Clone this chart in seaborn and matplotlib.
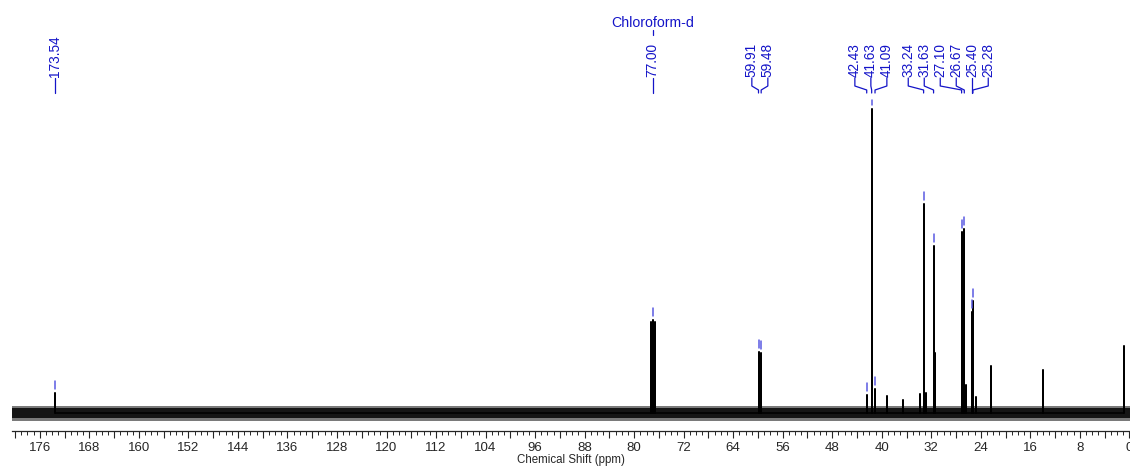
import numpy as np
import pandas as pd
import matplotlib
matplotlib.use("Agg")
import matplotlib.pyplot as plt
from matplotlib.ticker import MultipleLocator, FuncFormatter
from matplotlib.transforms import blended_transform_factory
import seaborn as sns

# 13C NMR peak list (ppm) with peak heights (arbitrary intensity units)
picked_ppm = [173.54, 77.00, 59.91, 59.48, 42.43, 41.63, 41.09,
              33.24, 31.63, 27.10, 26.67, 25.40, 25.28]
picked_height = [20, 93, 61, 60, 18, 304, 24,
                 209, 167, 181, 184, 101, 112]
picked_text = ["173.54", "77.00", "59.91", "59.48", "42.43", "41.63", "41.09",
               "33.24", "31.63", "27.10", "26.67", "25.40", "25.28"]

# unpicked lines: solvent triplet outer lines and minor signals
other_ppm = [77.32, 76.68, 39.2, 36.5, 33.8, 32.9, 31.45, 26.4, 24.8, 22.4, 13.9, 0.8]
other_height = [91, 91, 17, 13, 19, 20, 60, 28, 16, 47, 43, 67]

# baseline noise envelope (intensity units)
noise_core = (-5, 5)
noise_fringe = (-8, 7)

solvent_label = "Chloroform-d"
solvent_ppm = 77.00

x_label = "Chemical Shift (ppm)"

# ---------------------------------------------------------------------------
W, H, DPI = 1130, 468, 100
sns.set_style("ticks")
plt.rcParams["font.family"] = ["Liberation Sans", "DejaVu Sans"]

fig = plt.figure(figsize=(W / DPI, H / DPI), dpi=DPI)
ax_left, ax_right, ax_top, ax_bottom = 12, 1130, 100, 431
ax = fig.add_axes([ax_left / W, 1 - ax_bottom / H,
                   (ax_right - ax_left) / W, (ax_bottom - ax_top) / H])
xlim = (180.5, -0.1)
ylim = (-18, 313)
ax.set_xlim(*xlim)
ax.set_ylim(*ylim)

# spectrum drawn as stick lines rising from the baseline
all_ppm = picked_ppm + other_ppm
all_h = picked_height + other_height
order = np.argsort(all_ppm)[::-1]
xs, ys = [], []
for i in order:
    xs += [all_ppm[i], all_ppm[i], all_ppm[i]]
    ys += [0, all_h[i], 0]
spec = pd.DataFrame({"ppm": xs, "intensity": ys})

ax.fill_between(xlim, noise_fringe[0], noise_fringe[1], color="#7a7a7a",
                lw=0, zorder=1)
ax.fill_between(xlim, noise_core[0], noise_core[1], color="#151515",
                lw=0, zorder=1)
sns.lineplot(data=spec, x="ppm", y="intensity", sort=False, estimator=None,
             color="black", lw=1.1, ax=ax, zorder=2)

# peak-pick markers just above each picked peak
mark_col = "#5a5ae2"
for p, h in zip(picked_ppm, picked_height):
    y0, y1 = h + 4, min(h + 12, ylim[1])
    if y1 > y0:
        ax.plot([p, p], [y0, y1], color=mark_col, lw=1.1, zorder=3,
                clip_on=False)

# axis styling
for s in ("left", "top", "right"):
    ax.spines[s].set_visible(False)
ax.spines["bottom"].set_linewidth(0.9)
ax.set_yticks([])
ax.set_ylabel("")
ax.xaxis.set_major_locator(MultipleLocator(4))
ax.xaxis.set_minor_locator(MultipleLocator(1))
ax.xaxis.set_major_formatter(
    FuncFormatter(lambda v, pos: f"{int(round(v))}" if round(v) % 8 == 0 else ""))
ax.tick_params(axis="x", which="major", length=5, width=0.8, pad=3,
               labelsize=9.5, direction="out")
ax.tick_params(axis="x", which="minor", length=3, width=0.7, direction="out")
ax.set_xlabel(x_label, fontsize=8.3, labelpad=0)

# ---------------------------------------------------------------------------
# peak labels along the top, spread apart where they crowd
px_per_ppm = (ax_right - ax_left) / (xlim[0] - xlim[1])
gap = 16.0 / px_per_ppm  # minimum spacing between labels, in ppm

idx = sorted(range(len(picked_ppm)), key=lambda i: -picked_ppm[i])
clusters = [[i] for i in idx]


def place(cl):
    hi, lo = picked_ppm[cl[0]], picked_ppm[cl[-1]]
    c = (hi + lo) / 2
    n = len(cl)
    return [c + gap * ((n - 1) / 2 - k) for k in range(n)]


changed = True
while changed:
    changed = False
    for k in range(len(clusters) - 1):
        a, b = place(clusters[k]), place(clusters[k + 1])
        if a[-1] - b[0] < gap:
            clusters[k] = clusters[k] + clusters[k + 1]
            del clusters[k + 1]
            changed = True
            break

label_pos = {}
for cl in clusters:
    for i, pos in zip(cl, place(cl)):
        label_pos[i] = pos

trans = blended_transform_factory(ax.transData, fig.transFigure)


def fy(ypx):
    return 1 - ypx / H


lab_col = "#1414c8"
for i in range(len(picked_ppm)):
    p, lx = picked_ppm[i], label_pos[i]
    if abs(p - lx) * px_per_ppm < 0.6:
        ax.plot([p, p], [fy(78), fy(93)], color=lab_col, lw=0.9,
                transform=trans, clip_on=False)
    else:
        ax.plot([lx, lx, p, p], [fy(78), fy(86), fy(90), fy(93)],
                color=lab_col, lw=0.9, transform=trans, clip_on=False)
    ax.text(lx, fy(77), picked_text[i], rotation=90, ha="center", va="bottom",
            fontsize=9.8, color=lab_col, transform=trans, clip_on=False)

ax.text(solvent_ppm, fy(23), solvent_label, ha="center", va="center",
        fontsize=10.2, color=lab_col, transform=trans)
ax.plot([solvent_ppm, solvent_ppm], [fy(30), fy(35)], color=lab_col, lw=0.9,
        transform=trans, clip_on=False)

fig.savefig("out.png", dpi=DPI)
